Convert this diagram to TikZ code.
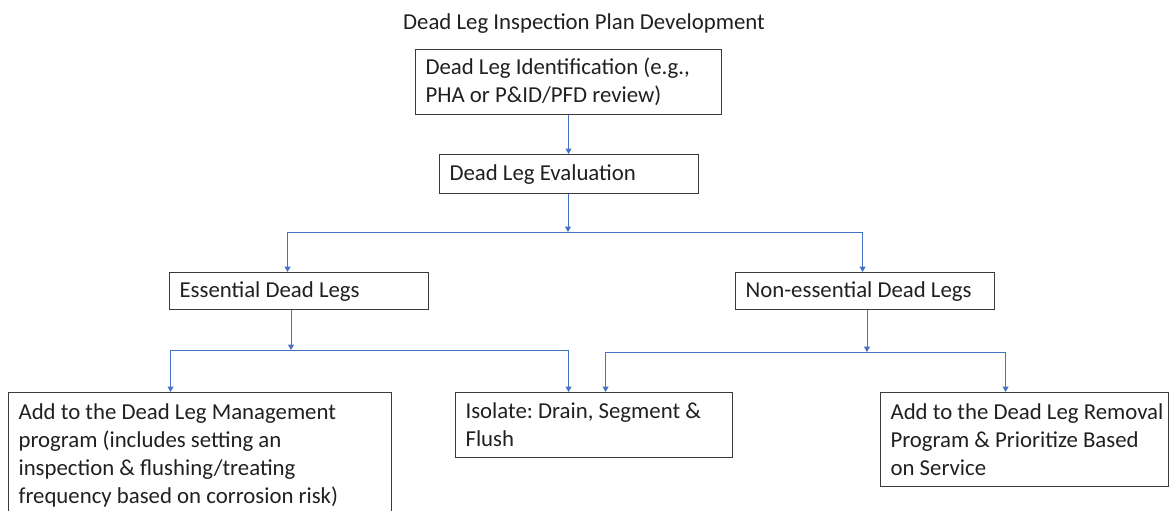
\documentclass[tikz,border=0pt]{standalone}
\usepackage{fontspec}
\setmainfont{Carlito}
\usepackage{tikz}
\usetikzlibrary{arrows.meta}
\frenchspacing
\definecolor{boxline}{HTML}{3A3A3A}
\definecolor{boxtext}{HTML}{202020}
\definecolor{flowblue}{HTML}{4472C4}
\tikzset{
    box/.style={draw=boxline,line width=1.1pt,anchor=north west,align=flush left,
        inner xsep=10pt,inner ysep=0pt,text width=#1,text=boxtext,
        font=\fontsize{22.8}{28}\selectfont},
    ttl/.style={text=boxtext,inner sep=0pt,anchor=base,
        font=\fontsize{22.8}{28}\selectfont},
    elbow/.style={to path={-| (\tikztotarget)}},
    flow/.style={
        every edge/.style={draw=flowblue,line width=1pt,
            -{Triangle[length=5.5pt,width=6pt]}},
    }
}
\begin{document}
\begin{tikzpicture}[x=1pt,y=-1pt,flow]
    \useasboundingbox (0,0) rectangle (1170,511);
    \clip (0,0) rectangle (1170,511);
    \node[ttl] (title) at (584,30) {Dead Leg Inspection Plan Development};
    \node[box=286pt,minimum height=65pt] (ident) at (415,49)
        {Dead Leg Identification (e.g.,\\PHA or P\&ID/PFD review)};
    \node[box=239pt,minimum height=39pt] (eval) at (439,154) {Dead Leg Evaluation};
    \node[box=239pt,minimum height=37pt] (ess) at (169,272) {Essential Dead Legs};
    \node[box=239pt,minimum height=37pt] (ness) at (735,272) {Non-essential Dead Legs};
    \node[box=363pt,minimum height=125pt] (mgmt) at (8,392)
        {Add to the Dead Leg Management\\program (includes setting an\\inspection \& flushing/treating\\frequency based on corrosion risk)};
    \node[box=257pt,minimum height=65pt] (isol) at (455,392)
        {Isolate: Drain, Segment \&\\Flush};
    \node[box=268pt,minimum height=94pt] (remv) at (880,392)
        {\mbox{Add to the Dead Leg Removal}\\Program \& Prioritize Based\\on Service};
    % branch points
    \coordinate (j1) at (568,232);
    \coordinate (j2) at (291,350);
    \coordinate (j3) at (867,352);
    \path
        (ident) edge (ident.south |- eval.north)
        (eval.south -| j1) edge (j1)
        (j1) edge[elbow] ([xshift=-11.5pt]ess.north)
        (j1) edge[elbow] ([xshift=-2.5pt]ness.north)
        (ess.south -| j2) edge (j2)
        (j2) edge[elbow] ([xshift=-29.5pt]mgmt.north)
        (j2) edge[elbow] ([xshift=-25.5pt]isol.north)
        (ness.south -| j3) edge (j3)
        (j3) edge[elbow] ([xshift=11.5pt]isol.north)
        (j3) edge[elbow] ([xshift=-19pt]remv.north)
    ;
\end{tikzpicture}
\end{document}
